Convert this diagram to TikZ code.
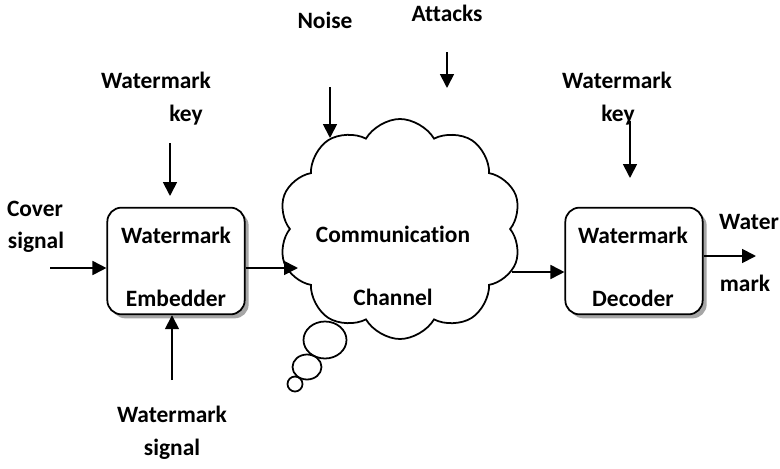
\documentclass[tikz,border=0pt]{standalone}
\usepackage{fontspec}
\setmainfont{Carlito}[Ligatures=NoCommon]
\usetikzlibrary{arrows.meta,shapes.symbols,shapes.geometric,shadows,positioning}
\tikzset{
    lbl/.style={
    font=\bfseries\fontsize{20}{24}\selectfont,inner sep=0pt,text height=1.5ex,text depth=.25ex
    },
    block/.style={
    rectangle,rounded corners=12pt,draw=black,fill=white,line width=1.5pt,
    minimum width=4.12cm,minimum height=3.2cm,
    drop shadow={shadow xshift=0.12cm,shadow yshift=-0.12cm,fill=gray!70,opacity=1}
    },
    channel/.style={
    cloud,cloud puffs=10,cloud puff arc=120,cloud ignores aspect,draw=black,line width=1.5pt,
    minimum width=7.3cm,minimum height=6.6cm
    },
    bubble/.style={
    ellipse,draw=black,line width=1.5pt,inner sep=0pt
    },
    flow/.style={
    line width=1.5pt,-{Triangle[length=0.42cm,width=0.42cm]}
    },
}

\begin{document}
\begin{tikzpicture}[x=0.03cm,y=-0.03cm]
   \useasboundingbox (0,0) rectangle (780,468);
   % blocks and channel
   \node[block] (emb) at (176,261) {};
   \node[block] (dec) at (634,261) {};
   \node[channel] (chan) at (400,229) {};
   \node[bubble,minimum width=1.29cm,minimum height=1.11cm] (b1) at (325,340) {};
   \node[bubble,minimum width=0.87cm,minimum height=0.75cm] (b2) at (307,367) {};
   \node[bubble,minimum width=0.45cm,minimum height=0.45cm] (b3) at (295,384) {};
   % texts
   \node[lbl] (embtop) at (176,240) {Watermark};
   \node[lbl] (embbot) at (176,303) {Embedder};
   \node[lbl] (dectop) at (633,240) {Watermark};
   \node[lbl] (decbot) at (633,303) {Decoder};
   \node[lbl] (comm) at (393,239) {Communication};
   \node[lbl] (chnl) at (393,302) {Channel};
   \node[lbl] (cover) at (35,213) {Cover};
   \node[lbl] (covsig) at (36,245) {signal};
   \node[lbl] (wkey1) at (156,85) {Watermark};
   \node[lbl] (key1) at (186,118) {key};
   \node[lbl] (noise) at (325,25) {Noise};
   \node[lbl] (attack) at (447,18) {Attacks};
   \node[lbl] (wkey2) at (617,85) {Watermark};
   \node[lbl] (key2) at (618,118) {key};
   \node[lbl] (water) at (749,226) {Water};
   \node[lbl] (mark) at (745,288) {mark};
   \node[lbl] (wsig1) at (172,419) {Watermark};
   \node[lbl] (wsig2) at (172,452) {signal};
   % free ends
   \coordinate (cin) at (50,268);
   \coordinate (kin1) at (170,143);
   \coordinate (sin) at (172,380);
   \coordinate (chin) at (298,268);
   \coordinate (nin) at (330,87);
   \coordinate (nout) at (330,138);
   \coordinate (ain) at (447,52);
   \coordinate (aout) at (447,88);
   \coordinate (chout) at (512,272);
   \coordinate (kin2) at (630,121);
   \coordinate (kout2) at (630,178);
   \coordinate (wout) at (756,256);
   % arrows
   \draw[flow] (cin) -- (cin -| emb.west);
   \draw[flow] (kin1) -- (kin1 |- 0,196);
   \draw[flow] (sin) -- (sin |- emb.south);
   \draw[flow] (emb.east |- chin) -- (chin);
   \draw[flow] (nin) -- (nout);
   \draw[flow] (ain) -- (aout);
   \draw[flow] (chout) -- (chout -| dec.west);
   \draw[flow] (kin2) -- (kout2);
   \draw[flow] (dec.east |- wout) -- (wout);
\end{tikzpicture}
\end{document}
